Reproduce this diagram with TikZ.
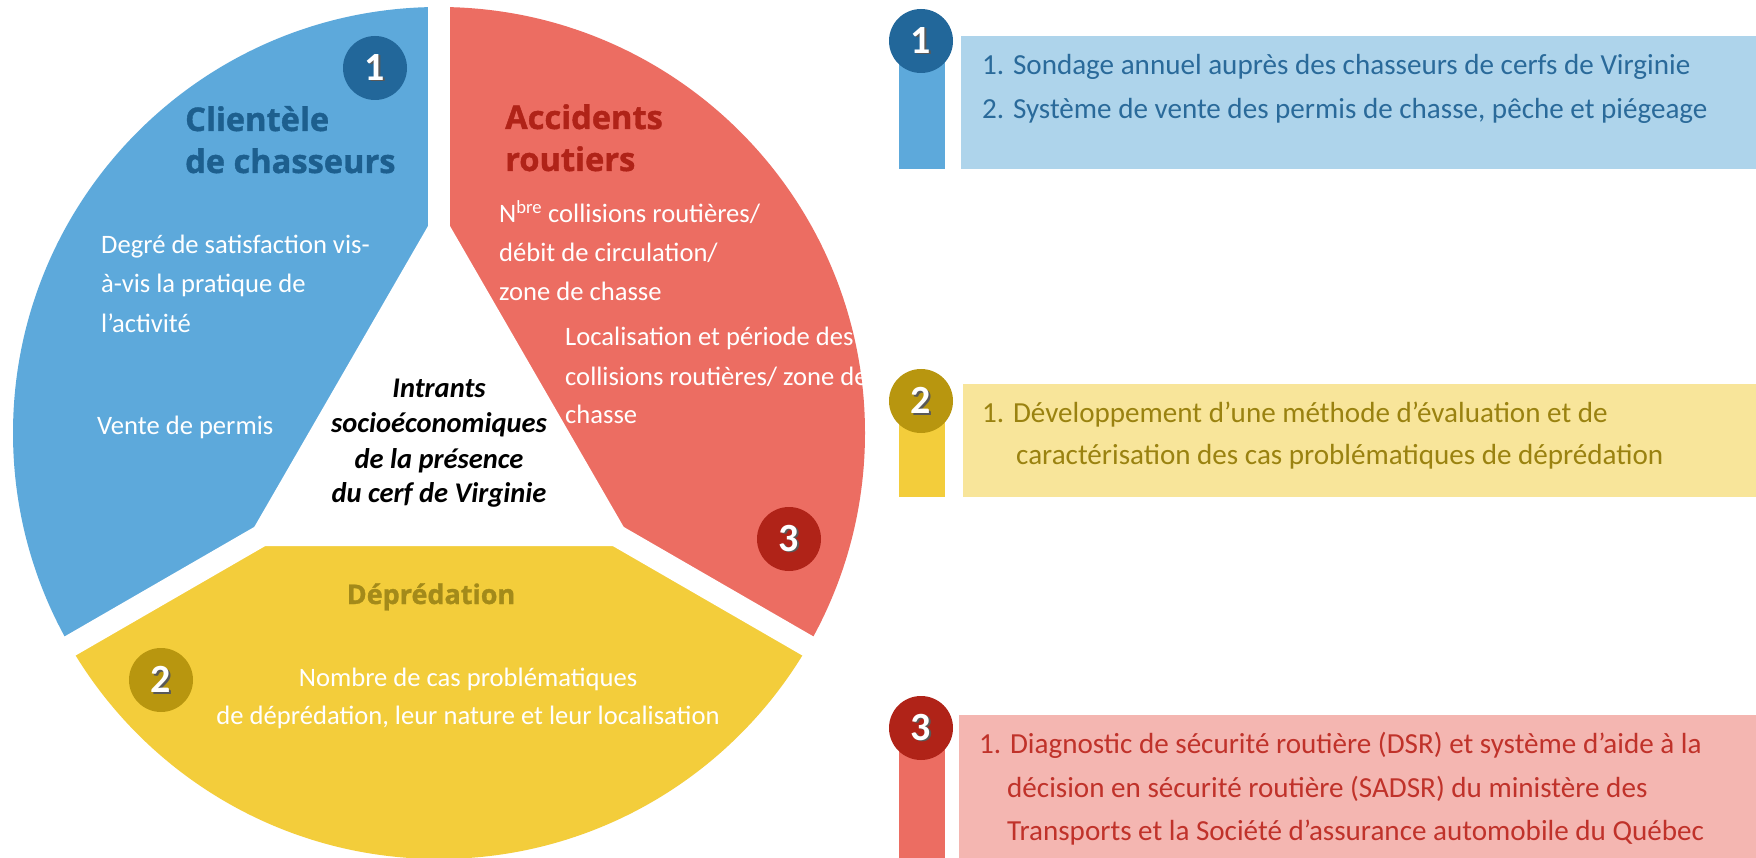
\documentclass[tikz,border=0pt]{standalone}
\usepackage{fontspec}
\setmainfont{Carlito}
\newfontfamily\headfont{Open Sans}[BoldFeatures={FakeBold=1.2}]
\definecolor{cblue}{HTML}{5DA9DB}
\definecolor{cred}{HTML}{EC6D62}
\definecolor{cyel}{HTML}{F3CD3B}
\definecolor{dblue}{HTML}{22679A}
\definecolor{dred}{HTML}{B02318}
\definecolor{dyel}{HTML}{B8960F}
\definecolor{hblue}{HTML}{1D5F8E}
\definecolor{hred}{HTML}{B02318}
\definecolor{hyel}{HTML}{A38A1A}
\definecolor{lblue}{HTML}{AED4EB}
\definecolor{lyel}{HTML}{F8E59A}
\definecolor{lred}{HTML}{F4B6B1}
\definecolor{tblue}{HTML}{2A6A9A}
\definecolor{tyel}{HTML}{9A8210}
\definecolor{tred}{HTML}{C0322A}
\newcommand\shadownum[1]{\rlap{\kern1.8pt\raisebox{-1.8pt}{\textcolor{black!65}{#1}}}\textcolor{white}{#1}}
\tikzset{
  body/.style={font=\fontsize{26.6}{32}\selectfont, inner sep=0pt, anchor=base west},
  bodyc/.style={font=\fontsize{26.6}{32}\selectfont, inner sep=0pt, anchor=base},
  panel/.style={font=\fontsize{29.1}{34}\selectfont, inner sep=0pt, anchor=base west},
  head/.style={font=\headfont\bfseries\fontsize{32.6}{38}\selectfont, inner sep=0pt, anchor=base west},
  center/.style={font=\bfseries\itshape\fontsize{28.5}{34}\selectfont, inner sep=0pt, anchor=base, text=black},
  numcirc/.style={circle, minimum size=64pt, inner sep=0pt, font=\bfseries\fontsize{40}{40}\selectfont},
  gap/.style={white, line width=22pt}
}
\begin{document}
\begin{tikzpicture}[x=1pt,y=-1pt]
\useasboundingbox (0,0) rectangle (1756,858);
\clip (0,0) rectangle (1756,858);
\fill[white] (0,0) rectangle (1756,858);
% ---------- pie ----------
\coordinate (C) at (439,433);
\begin{scope}
  \clip (C) circle (426);
  \fill[cblue] (C) -- (439,-200) -- (-200,-200) -- (-200,802) -- cycle;
  \fill[cred]  (C) -- (439,-200) -- (1078,-200) -- (1078,802) -- cycle;
  \fill[cyel]  (C) -- (-200,802) -- (-200,1100) -- (1078,1100) -- (1078,802) -- cycle;
\end{scope}
\coordinate (gtop) at (439,-20);
\coordinate (gleft) at (-20,698);
\coordinate (gright) at (898,698);
\draw[gap] (C) -- (gtop);
\draw[gap] (C) -- (gleft);
\draw[gap] (C) -- (gright);
\fill[white] (439,207) -- (243.3,546) -- (634.7,546) -- cycle;

% pie numbers
\node[numcirc, fill=dblue] (p1) at (375,68) {\shadownum{1}};
\node[numcirc, fill=dyel] (p2) at (161,680) {\shadownum{2}};
\node[numcirc, fill=dred] (p3) at (789,539) {\shadownum{3}};

% blue sector texts
\node[head, text=hblue] (bh1) at (185,131) {Clientèle};
\node[head, text=hblue] (bh2) at (185,173) {de chasseurs};
\node[body, text=white] (bb1) at (101,254) {Degré de satisfaction vis-};
\node[body, text=white] (bb2) at (101,293) {à-vis la pratique de};
\node[body, text=white] (bb3) at (101,333) {l’activité};
\node[body, text=white] (bb4) at (97,434) {Vente de permis};

% center
\node[center] (c1) at (439,397) {Intrants};
\node[center] (c2) at (439,432) {socioéconomiques};
\node[center] (c3) at (439,468) {de la présence};
\node[center] (c4) at (439,502) {du cerf de Virginie};

% red sector texts
\node[head, text=hred] (rh1) at (505,129) {Accidents};
\node[head, text=hred] (rh2) at (505,171) {routiers};
\node[body, text=white] (rb1) at (499,223) {N\textsuperscript{bre} collisions routières/};
\node[body, text=white] (rb2) at (499,262) {débit de circulation/};
\node[body, text=white] (rb3) at (499,301) {zone de chasse};
\node[body, text=white] (rb4) at (565,346) {Localisation et période des};
\node[body, text=white] (rb5) at (565,385) {collisions routières/ zone de};
\node[body, text=white] (rb6) at (565,424) {chasse};

% yellow sector texts
\node[head, anchor=base, text=hyel, font=\headfont\bfseries\fontsize{27}{32}\selectfont] (yh1) at (431,604) {Déprédation};
\node[bodyc, text=white] (yb1) at (468,686) {Nombre de cas problématiques};
\node[bodyc, text=white] (yb2) at (468,724) {de déprédation, leur nature et leur localisation};

% ---------- right panel ----------
\fill[lblue] (961,36) rectangle (1756,169);
\fill[cblue] (899,41) rectangle (945,169);
\node[numcirc, fill=dblue] (n1) at (921,41) {\shadownum{1}};
\node[panel, text=tblue] (t11) at (982,75) {1. Sondage annuel auprès des chasseurs de cerfs de Virginie};
\node[panel, text=tblue] (t12) at (982,119) {2. Système de vente des permis de chasse, pêche et piégeage};

\fill[lyel] (963,384) rectangle (1756,497);
\fill[cyel] (899,401) rectangle (945,497);
\node[numcirc, fill=dyel] (n2) at (921,401) {\shadownum{2}};
\node[panel, text=tyel] (t21) at (982,422) {1. Développement d’une méthode d’évaluation et de};
\node[panel, text=tyel] (t22) at (1016,464) {caractérisation des cas problématiques de déprédation};

\fill[lred] (959,715) rectangle (1756,870);
\fill[cred] (899,728) rectangle (945,870);
\node[numcirc, fill=dred] (n3) at (921,728) {\shadownum{3}};
\node[panel, text=tred] (t31) at (979,753) {1. Diagnostic de sécurité routière (DSR) et système d’aide à la};
\node[panel, text=tred] (t32) at (1007,797) {décision en sécurité routière (SADSR) du ministère des};
\node[panel, text=tred] (t33) at (1007,840) {Transports et la Société d’assurance automobile du Québec};
\end{tikzpicture}
\end{document}
